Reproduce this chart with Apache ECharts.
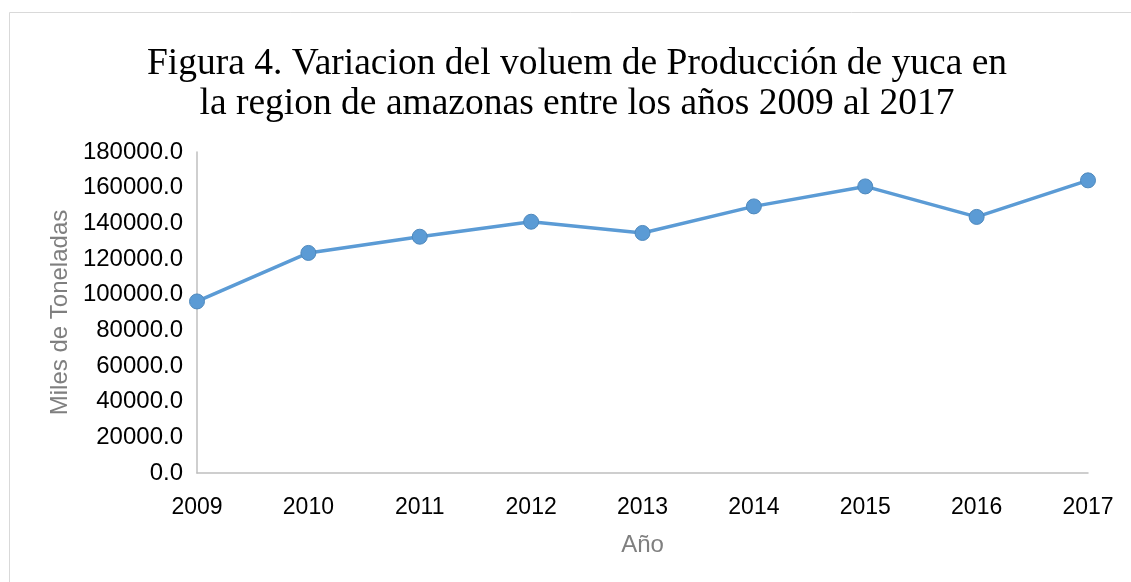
<!DOCTYPE html>
<html>
<head>
<meta charset="utf-8">
<script src="https://cdn.jsdelivr.net/npm/echarts@6/dist/echarts.min.js"></script>
<style>
    html, body {
        margin: 0;
        padding: 0;
        background: #ffffff;
    }
    #chart {
        width: 1131px;
        height: 582px;
    }
</style>
</head>
<body>
<div id="chart"></div>
<script>
const years = ["2009", "2010", "2011", "2012", "2013", "2014", "2015", "2016", "2017"];
const production = [96200, 123400, 132500, 140900, 134600, 149500, 160700, 143600, 164100];
const yTicks = [0, 20000, 40000, 60000, 80000, 100000, 120000, 140000, 160000, 180000];

const chart = echarts.init(document.getElementById("chart"));
const option = {
    backgroundColor: "#ffffff",
    animation: false,
    title: {
        text: "Figura 4. Variacion del voluem de Producción de yuca en\nla region de amazonas entre los años 2009 al 2017",
        left: 572,
        top: 39,
        textAlign: "center",
        textStyle: {
            fontFamily: "Liberation Serif",
            fontWeight: "normal",
            fontSize: 37.5,
            lineHeight: 40,
            color: "#000000",
        },
    },
    graphic: [
        {
            type: "rect",
            shape: { x: 9.5, y: 12.5, width: 1140, height: 600 },
            style: { fill: "none", stroke: "#d9d9d9", lineWidth: 1 },
            silent: true,
        },
    ],
    grid: {
        left: 197,
        right: 43,
        top: 152,
        bottom: 109,
        containLabel: false,
    },
    xAxis: {
        type: "category",
        boundaryGap: false,
        data: years,
        name: "Año",
        nameLocation: "middle",
        nameGap: 60,
        nameTextStyle: {
            fontFamily: "Liberation Sans",
            fontSize: 24,
            color: "#7f7f7f",
        },
        axisLine: { lineStyle: { color: "#bfbfbf", width: 1.5 } },
        axisTick: { show: false },
        axisLabel: {
            margin: 23,
            fontFamily: "Liberation Sans",
            fontSize: 23,
            color: "#000000",
        },
        splitLine: { show: false },
    },
    yAxis: {
        type: "value",
        min: yTicks[0],
        max: yTicks[yTicks.length - 1],
        interval: yTicks[1] - yTicks[0],
        name: "Miles de Toneladas",
        nameLocation: "middle",
        nameGap: 124,
        nameTextStyle: {
            fontFamily: "Liberation Sans",
            fontSize: 24,
            color: "#7f7f7f",
        },
        axisLine: { show: true, lineStyle: { color: "#bfbfbf", width: 1.5 } },
        axisTick: { show: false },
        splitLine: { show: false },
        axisLabel: {
            margin: 14,
            fontFamily: "Liberation Sans",
            fontSize: 24,
            color: "#000000",
            formatter(value) {
                return value.toFixed(1);
            },
        },
    },
    series: [
        {
            name: "Producción",
            type: "line",
            data: production,
            symbol: "circle",
            symbolSize: 15,
            lineStyle: { color: "#5b9bd5", width: 3.5 },
            itemStyle: {
                color: "#5b9bd5",
                borderColor: "#4f89bd",
                borderWidth: 1,
            },
        },
    ],
};
chart.setOption(option);
</script>
</body>
</html>
